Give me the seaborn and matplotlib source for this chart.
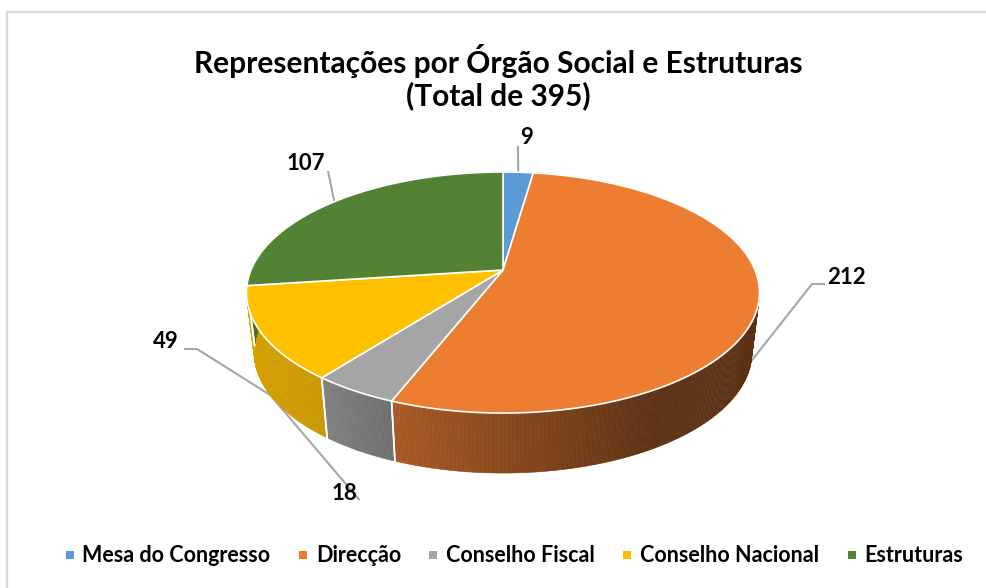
import numpy as np
import matplotlib
matplotlib.use("Agg")
import matplotlib.pyplot as plt
from matplotlib.lines import Line2D
import seaborn as sns

# ---- data ----
categories = ["Mesa do Congresso", "Direcção", "Conselho Fiscal", "Conselho Nacional", "Estruturas"]
values = [9, 212, 18, 49, 107]
title_lines = "Representações por Órgão Social e Estruturas\n(Total de 395)"

# ---- style ----
colors = ["#5B9BD5", "#ED7D31", "#A5A5A5", "#FFC000", "#548235"]
sns.set_theme(style="white")
plt.rcParams["font.family"] = ["Lato", "DejaVu Sans"]
palette = sns.color_palette(colors)

# perspective parameters of the tilted disc (pixels)
CX, CY, R, S, K = 503.0, 270.0, 252.0, 116.3, 0.187
DEPTH, FLOOR_SX = 60.0, 0.97
label_xy = [(527, 138), (846, 277), (166, 342), (344, 493), (306, 164)]
label_order = [0, 1, 3, 2, 4]
elbows = [[(518, 146)], [(825, 284), (812, 284)], [(184, 349), (197, 349)],
          [(359.5, 500)], [(328, 171)]]
front_leader = [False, True, True, True, False]


def rim(theta_deg):
    t = np.radians(theta_deg)
    d = 1 + K * np.cos(t)
    return R * np.sin(t) / d, S * np.cos(t) / d


def top(theta_deg):
    x, y = rim(theta_deg)
    return CX + x, CY - y


def floor(theta_deg):
    x, y = rim(theta_deg)
    return CX + FLOOR_SX * x, CY + DEPTH - y


def shade(theta):
    """darkening of the wall as it turns from the light on the left"""
    return np.interp(theta, [0, 150, 201, 201.6, 217.6, 218, 262.5, 360],
                     [0.39, 0.39, 0.71, 0.67, 0.78, 0.79, 0.86, 0.86])


fig = plt.figure(figsize=(9.86, 5.88), dpi=100, facecolor="white")
ax = fig.add_axes([0, 0, 1, 1])
ax.set_xlim(0, 986)
ax.set_ylim(588, 0)
ax.axis("off")

# chart-area frame
ax.plot([7, 7, 986], [588, 11.5, 11.5], color="#D9D9D9", lw=1.6, zorder=1,
        solid_joinstyle="miter")

shares = np.array(values, dtype=float) / np.sum(values) * 360
ends = np.cumsum(shares)
starts = ends - shares
mids = (starts + ends) / 2

# leader lines
for i, m in enumerate(mids):
    p = floor(m) if front_leader[i] else top(m)
    pts = elbows[i] + [p]
    xs, ys = zip(*pts)
    ax.plot(xs, ys, color="#A6A6A6", lw=1.5, zorder=2, solid_capstyle="butt")

# side wall, sliced finely so it can carry the shading
for col, a, b in zip(palette, starts, ends):
    th = np.linspace(a, b, max(int((b - a) * 2), 2) + 1)
    for t0, t1 in zip(th[:-1], th[1:]):
        xt0, yt0 = top(t0)
        xt1, yt1 = top(t1)
        xb0, yb0 = floor(t0)
        xb1, yb1 = floor(t1)
        c = np.array(col) * shade((t0 + t1) / 2)
        ax.fill([xt0, xt1, xb1, xb0], [yt0, yt1, yb1, yb0], facecolor=c,
                edgecolor=c, lw=0.4, zorder=3)
    for t in (a, b):
        if 150 < t < 265:
            xt, yt = top(t)
            xb, yb = floor(t)
            ax.plot([xt, xb], [yt, yb], color="white", lw=1.2, zorder=4)

# top face
for col, a, b in zip(palette, starts, ends):
    th = np.linspace(a, b, 200)
    xs, ys = top(th)
    ax.fill(np.r_[CX, xs], np.r_[CY, ys], facecolor=col, edgecolor="white",
            lw=1.2, zorder=5, joinstyle="round")

# data labels
for i, (x, y) in enumerate(label_xy):
    ax.text(x, y, str(values[i] if i < 2 else values[label_order[i]]), ha="center", va="center",
            fontsize=16, fontweight="bold", color="black", zorder=6)

ax.text(498, 77, title_lines, ha="center", va="center", fontsize=21.5,
        fontweight="bold", color="black", linespacing=1.12, zorder=6)

handles = [Line2D([], [], marker="s", ls="none", color=c, markersize=5.6, markeredgewidth=0)
           for c in palette]
leg = ax.legend(handles, categories, ncol=5, loc="center", bbox_to_anchor=(510 / 986, 1 - 556 / 588),
                frameon=False, handletextpad=0.0, columnspacing=0.9, handlelength=1.2,
                prop={"family": "Lato", "weight": "bold", "size": 15.5}, labelcolor="black")
fig.savefig("out.png", dpi=100, facecolor="white")
